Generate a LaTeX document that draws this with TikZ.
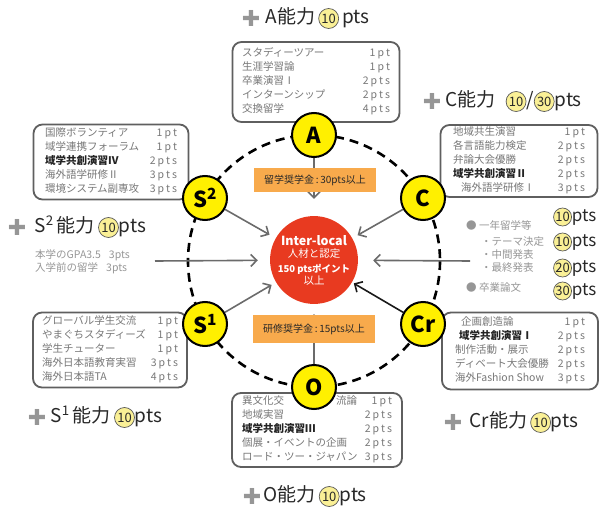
\documentclass[tikz,border=0pt]{standalone}
\usepackage{fontspec}
\setmainfont{Noto Sans CJK JP}
\newfontfamily\symfont{DejaVu Sans}
\newfontfamily\ptsfont[LetterSpace=20]{Noto Sans CJK JP}
\usetikzlibrary{arrows.meta,positioning,backgrounds}

\definecolor{ringyellow}{RGB}{255,240,0}
\definecolor{corered}{RGB}{232,58,32}
\definecolor{grantorange}{RGB}{248,170,76}
\definecolor{itemgrey}{RGB}{120,120,120}
\definecolor{itemdark}{RGB}{35,35,35}
\definecolor{sidegrey}{RGB}{150,150,150}
\definecolor{framegrey}{RGB}{95,95,95}
\definecolor{numfill}{RGB}{250,240,150}
\definecolor{plusgrey}{RGB}{150,150,150}
\definecolor{titlegrey}{RGB}{40,40,40}

\tikzset{
  ring/.style={line width=2.6pt,dash pattern=on 9pt off 6pt},
  ability/.style={circle,draw=black,line width=2pt,fill=ringyellow,minimum size=44pt,
    inner sep=0pt,font=\fontsize{22}{22}\selectfont\bfseries},
  core/.style={circle,fill=corered,minimum size=84pt,inner sep=0pt,text=white,align=center},
  listbox/.style={draw=framegrey,line width=1.8pt,rounded corners=9pt,fill=white,
    inner sep=0pt,text=itemgrey,font=\fontsize{10.5}{14}\selectfont},
  grant/.style={fill=grantorange,minimum width=122pt,minimum height=25pt,inner sep=2pt,
    text=titlegrey,font=\fontsize{10}{12}\selectfont},
  feed/.style={draw=black!58,line width=1.6pt,-{Straight Barb[length=6pt,width=12pt]}},
  title/.style={anchor=west,inner sep=0pt,text=titlegrey,font=\fontsize{19}{20}\selectfont},
  plus/.style={inner sep=0pt,text=plusgrey,font=\symfont\fontsize{22}{22}\selectfont},
  numdisc/.style={circle,draw=black!65,line width=0.7pt,fill=numfill,inner sep=0pt,
    font=\fontsize{13}{13}\selectfont},
  side/.style={anchor=west,inner sep=0pt,text=sidegrey,font=\fontsize{10.5}{12}\selectfont},
  sidepts/.style={anchor=west,inner sep=0pt,text=titlegrey,font=\fontsize{17}{18}\selectfont},
}

\newcommand{\cnum}[2][20pt]{\tikz[baseline=(cn.base)]\node[numdisc,minimum size=#1] (cn) {#2};}
\newcommand{\ptlist}[2]{\begin{tabular*}{#1}{@{}l@{\extracolsep{\fill}}r@{}}#2\end{tabular*}}
\newcommand{\ptv}[1]{{\ptsfont #1}}
\newcommand{\dk}[1]{{\color{itemdark}\bfseries #1}}

\begin{document}
\begin{tikzpicture}[x=1pt,y=-1pt]
\useasboundingbox (0,0) rectangle (605,511);

% centre
\coordinate (hub) at (314,261);
\node[core] (core) at (314,260)
  {{\fontsize{12.5}{14}\selectfont\bfseries Inter-local}\\
   {\fontsize{10.5}{14}\selectfont 人材と認定}\\[3pt]
   {\fontsize{9.5}{14}\selectfont\bfseries 150 ptsポイント}\\
   {\fontsize{10.5}{14}\selectfont 以上}};

\node[grant,minimum height=24pt] (grantTop) at (315,180) {留学奨学金\,:\,30pts以上};
\node[grant,minimum height=28pt] (grantBot) at (314,329) {研修奨学金\,:\,15pts以上};

% course lists
\node[listbox,minimum width=167pt,minimum height=80pt] (boxA) at (316,82)
  {\ptlist{148pt}{スタディーツアー & \ptv{1pt}\\ 生涯学習論 & \ptv{1pt}\\
   卒業演習Ⅰ & \ptv{2pts}\\ インターンシップ & \ptv{2pts}\\ 交換留学 & \ptv{4pts}}};
\node[listbox,minimum width=155pt,minimum height=75pt] (boxS2) at (111,162)
  {\ptlist{132pt}{国際ボランティア & \ptv{1pt}\\ 域学連携フォーラム & \ptv{1pt}\\
   \dk{域学共創演習Ⅳ} & \ptv{2pts}\\ 海外語学研修Ⅱ & \ptv{3pts}\\ 環境システム副専攻 & \ptv{3pts}}};
\node[listbox,minimum width=157pt,minimum height=72pt] (boxC) at (519,161)
  {\ptlist{132pt}{地域共生演習 & \ptv{1pt}\\ 各言語能力検定 & \ptv{2pts}\\
   弁論大会優勝 & \ptv{2pts}\\ \dk{域学共創演習Ⅱ} & \ptv{2pts}\\ \hspace{8pt}海外語学研修Ⅰ & \ptv{3pts}}};
\node[listbox,minimum width=154pt,minimum height=75pt] (boxS1) at (110,350)
  {\ptlist{136pt}{グローバル学生交流 & \ptv{1pt}\\ やまぐちスタディーズ & \ptv{1pt}\\
   学生チューター & \ptv{1pt}\\ 海外日本語教育実習 & \ptv{3pts}\\ 海外日本語TA & \ptv{4pts}}};
\node[listbox,minimum width=156pt,minimum height=77pt] (boxCr) at (520,351)
  {\ptlist{130pt}{\hspace{6pt}企画創造論 & \ptv{1pt}\\ \hspace{4pt}\dk{域学共創演習Ⅰ} & \ptv{2pts}\\
   制作活動・展示 & \ptv{2pts}\\ ディベート大会優勝 & \ptv{2pts}\\ 海外Fashion Show & \ptv{3pts}}};
\node[listbox,minimum width=170pt,minimum height=74pt] (boxO) at (317,430)
  {\ptlist{150pt}{異文化交\hspace{52pt}流論 & \ptv{1pt}\\ 地域実習 & \ptv{2pts}\\
   \dk{域学共創演習Ⅲ} & \ptv{2pts}\\ 個展・イベントの企画 & \ptv{2pts}\\ ロード・ツー・ジャパン & \ptv{3pts}}};

% ability circles
\node[ability] (nA) at (314,135) {A};
\node[ability] (nC) at (423,198) {C};
\node[ability] (nCr) at (423,324) {Cr};
\node[ability] (nO) at (314,387) {O};
\node[ability] (nS1) at (205,324) {S\textsuperscript{1}};
\node[ability] (nS2) at (205,198) {S\textsuperscript{2}};

% titles
\node[plus] (plusA) at (251,18) {✚};
\node[title,right=5pt of plusA] (titleA) {A能力\,\cnum{10}\,pts};
\node[plus] (plusC) at (432,101) {✚};
\node[title,right=4pt of plusC] (titleC) {C能力\hspace{10pt}\cnum{10}/\cnum{30}pts};
\node[plus] (plusS2) at (17,227) {✚};
\node[title,right=8pt of plusS2] (titleS2) {S\textsuperscript{2}\,能力\,\cnum{10}pts};
\node[plus] (plusS1) at (37,417) {✚};
\node[title,right=4pt of plusS1] (titleS1) {S\textsuperscript{1}\,能力\,\cnum{10}pts};
\node[plus] (plusCr) at (453,422) {✚};
\node[title,right=7pt of plusCr] (titleCr) {Cr能力\,\cnum{10}pts};
\node[plus] (plusO) at (252,496) {✚};
\node[title,right=2pt of plusO] (titleO) {O能力\,\cnum{10}pts};

% side items
\node[side] (gpa) at (35,255) {本学のGPA3.5\hspace{8pt}3pts};
\node[side] (prestudy) at (35,268) {入学前の留学\hspace{8pt}3pts};
\node[side] (yearabroad) at (466,225) {●\ 一年留学等};
\node[side] (theme) at (481,242) {・テーマ決定};
\node[side] (midterm) at (481,255) {・中間発表};
\node[side] (final) at (481,268) {・最終発表};
\node[side] (thesis) at (466,288) {●\ 卒業論文};
\node[sidepts] (ptsYear) at (553,217) {\cnum[18pt]{10}pts};
\node[sidepts] (ptsTheme) at (553,242) {\cnum[18pt]{10}pts};
\node[sidepts] (ptsFinal) at (553,268) {\cnum[18pt]{20}pts};
\node[sidepts] (ptsThesis) at (553,291) {\cnum[18pt]{30}pts};

\coordinate (gpaIn) at (155,261);
\coordinate (studyIn) at (470,261);

\begin{scope}[on background layer]
  \draw[ring] (hub) circle[radius=126];
  \draw[feed,shorten >=17pt] (nA) -- (core);
  \draw[feed,shorten >=10pt] (nO) -- (core);
  \draw[feed,shorten >=7pt] (nS2) -- (core);
  \draw[feed,shorten >=6pt] (nC) -- (core);
  \draw[feed,shorten >=5pt] (nS1) -- (core);
  \draw[feed,draw=black!90,shorten >=2pt] (nCr) -- (core);
  \draw[feed,shorten >=12pt] (gpaIn) -- (core);
  \draw[feed,shorten >=15pt] (studyIn) -- (core);
\end{scope}
\end{tikzpicture}
\end{document}
